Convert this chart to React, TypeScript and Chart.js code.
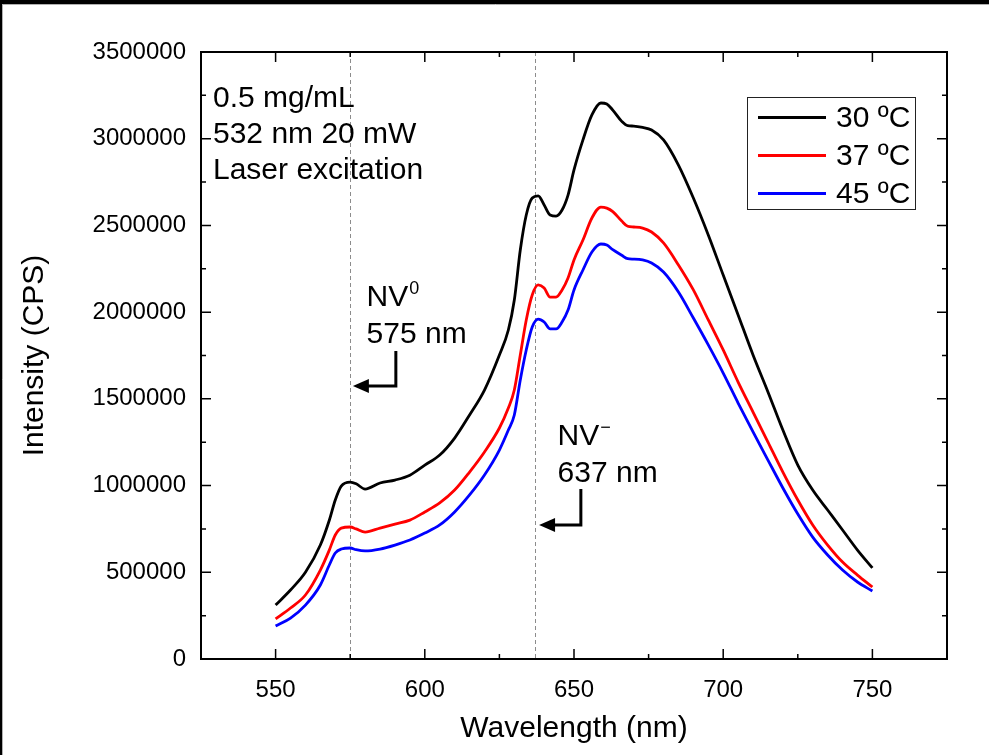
import { useEffect, useRef } from "react";
import { Chart, registerables } from "chart.js";

Chart.register(...registerables);

const wavelengths = [
  550, 555, 560, 565, 568, 570, 572, 575, 577, 580,
  585, 590, 595, 600, 605, 610, 615, 620, 625, 628,
  630, 632, 634, 636, 638, 640, 642, 644, 646, 648,
  650, 653, 656, 659, 661, 663, 666, 668, 670, 673,
  676, 680, 685, 690, 695, 700, 705, 710, 715, 720,
  725, 730, 735, 740, 745, 750,
];

const series30 = [
  311000, 398000, 500000, 657000, 800000, 917000, 997000, 1020000, 1010000, 980000,
  1015000, 1032000, 1060000, 1118000, 1176000, 1274000, 1407000, 1551000, 1753000, 1897000,
  2070000, 2358000, 2560000, 2658000, 2670000, 2618000, 2560000, 2554000, 2589000, 2675000,
  2820000, 2993000, 3137000, 3206000, 3200000, 3165000, 3100000, 3075000, 3073000, 3065000,
  3050000, 2993000, 2848000, 2658000, 2445000, 2214000, 1984000, 1753000, 1540000, 1320000,
  1118000, 974000, 859000, 744000, 628000, 525000,
];

const series37 = [
  231000, 294000, 369000, 513000, 628000, 715000, 755000, 761000, 750000, 732000,
  755000, 778000, 801000, 848000, 900000, 974000, 1078000, 1194000, 1332000, 1447000,
  1551000, 1753000, 1955000, 2099000, 2157000, 2139000, 2087000, 2087000, 2128000, 2197000,
  2301000, 2416000, 2543000, 2606000, 2600000, 2580000, 2525000, 2495000, 2491000, 2485000,
  2462000, 2399000, 2272000, 2128000, 1955000, 1782000, 1597000, 1424000, 1251000, 1078000,
  917000, 773000, 657000, 559000, 484000, 415000,
];

const series45 = [
  190000, 236000, 311000, 427000, 542000, 611000, 634000, 640000, 630000, 623000,
  634000, 657000, 686000, 726000, 773000, 848000, 946000, 1061000, 1205000, 1320000,
  1407000, 1609000, 1782000, 1914000, 1960000, 1943000, 1903000, 1903000, 1943000, 2012000,
  2128000, 2243000, 2347000, 2393000, 2387000, 2360000, 2328000, 2308000, 2306000, 2301000,
  2283000, 2231000, 2116000, 1966000, 1811000, 1649000, 1476000, 1309000, 1147000, 986000,
  836000, 703000, 600000, 513000, 444000, 392000,
];

const seriesLabels = ["30 ºC", "37 ºC", "45 ºC"];
const seriesColors = ["#000000", "#ff0000", "#0000ff"];

const xMajorTicks = [550, 600, 650, 700, 750];
const xMinorTicks = [575, 625, 675, 725];
const yMajorTicks = [0, 500000, 1000000, 1500000, 2000000, 2500000, 3000000, 3500000];
const yMinorTicks = [250000, 750000, 1250000, 1750000, 2250000, 2750000, 3250000];

const markerWavelengths = [575, 637];
const infoLines = ["0.5 mg/mL", "532 nm 20 mW", "Laser excitation"];
const nv0Label = { main: "NV", sup: "0", second: "575 nm" };
const nvmLabel = { main: "NV", sup: "−", second: "637 nm" };

const FONT = "'Liberation Sans', Arial, Helvetica, sans-serif";

function drawArrow(ctx: CanvasRenderingContext2D, x: number, y1: number, y2: number, tipX: number) {
  ctx.save();
  ctx.strokeStyle = "#000";
  ctx.fillStyle = "#000";
  ctx.lineWidth = 3;
  ctx.lineJoin = "miter";
  ctx.beginPath();
  ctx.moveTo(x, y1);
  ctx.lineTo(x, y2);
  ctx.lineTo(tipX + 12, y2);
  ctx.stroke();
  ctx.beginPath();
  ctx.moveTo(tipX, y2);
  ctx.lineTo(tipX + 16, y2 - 7);
  ctx.lineTo(tipX + 16, y2 + 7);
  ctx.closePath();
  ctx.fill();
  ctx.restore();
}

function drawNV(ctx: CanvasRenderingContext2D, lbl: { main: string; sup: string; second: string }, x: number, y: number) {
  ctx.save();
  ctx.fillStyle = "#000";
  ctx.textAlign = "left";
  ctx.textBaseline = "alphabetic";
  ctx.font = `30px ${FONT}`;
  ctx.fillText(lbl.main, x, y);
  const w = ctx.measureText(lbl.main).width;
  ctx.font = `18px ${FONT}`;
  ctx.fillText(lbl.sup, x + w + 1, y - 12);
  ctx.font = `30px ${FONT}`;
  ctx.fillText(lbl.second, x, y + 37);
  ctx.restore();
}

const decorPlugin = {
  id: "decor",
  beforeDraw(chart: any) {
    const { ctx, width, height } = chart;
    ctx.save();
    ctx.fillStyle = "#ffffff";
    ctx.fillRect(0, 0, width, height);
    ctx.fillStyle = "#000000";
    ctx.fillRect(0, 0, width, 4);
    ctx.fillRect(0, 0, 2, height);
    ctx.strokeStyle = "#b0b0b0";
    ctx.lineWidth = 1;
    ctx.beginPath();
    ctx.moveTo(2, 4.5);
    ctx.lineTo(width, 4.5);
    ctx.moveTo(2.5, 4);
    ctx.lineTo(2.5, height);
    ctx.stroke();
    ctx.restore();
  },
  beforeDatasetsDraw(chart: any) {
    const { ctx, chartArea } = chart;
    const xs = chart.scales.x;
    ctx.save();
    ctx.strokeStyle = "#8c8c8c";
    ctx.lineWidth = 1;
    ctx.setLineDash([4, 3]);
    markerWavelengths.forEach((w) => {
      const px = Math.round(xs.getPixelForValue(w)) + 0.5;
      ctx.beginPath();
      ctx.moveTo(px, chartArea.top);
      ctx.lineTo(px, chartArea.bottom);
      ctx.stroke();
    });
    ctx.restore();
  },
  afterDatasetsDraw(chart: any) {
    const { ctx, chartArea } = chart;
    const xs = chart.scales.x;
    const ys = chart.scales.y;
    const { left, right, top, bottom } = chartArea;
    ctx.save();
    ctx.strokeStyle = "#000";
    ctx.lineWidth = 2;
    ctx.strokeRect(left, top, right - left, bottom - top);
    ctx.lineWidth = 1.5;
    ctx.beginPath();
    const tickX = (vals: number[], len: number) => {
      vals.forEach((v) => {
        const px = xs.getPixelForValue(v);
        ctx.moveTo(px, bottom);
        ctx.lineTo(px, bottom - len);
        ctx.moveTo(px, top);
        ctx.lineTo(px, top + len);
      });
    };
    const tickY = (vals: number[], len: number) => {
      vals.forEach((v) => {
        const py = ys.getPixelForValue(v);
        ctx.moveTo(left, py);
        ctx.lineTo(left + len, py);
        ctx.moveTo(right, py);
        ctx.lineTo(right - len, py);
      });
    };
    tickX(xMajorTicks, 10);
    tickX(xMinorTicks, 5);
    tickY(yMajorTicks, 10);
    tickY(yMinorTicks, 5);
    ctx.stroke();

    ctx.fillStyle = "#000";
    ctx.font = `30px ${FONT}`;
    ctx.textAlign = "left";
    ctx.textBaseline = "alphabetic";
    infoLines.forEach((t, i) => {
      ctx.fillText(t, left + 12, top + 55 + i * 36);
    });

    const lx = right - 200;
    const ly = top + 44.5;
    ctx.lineWidth = 1;
    ctx.strokeStyle = "#222";
    ctx.strokeRect(Math.round(lx) + 0.5, Math.round(ly) + 0.5, 168, 112);
    seriesLabels.forEach((lab, i) => {
      const yy = ly + 21 + i * 38;
      ctx.strokeStyle = seriesColors[i];
      ctx.lineWidth = 3;
      ctx.beginPath();
      ctx.moveTo(lx + 11, yy);
      ctx.lineTo(lx + 79, yy);
      ctx.stroke();
      ctx.fillStyle = "#000";
      ctx.font = `30px ${FONT}`;
      ctx.textBaseline = "middle";
      ctx.fillText(lab, lx + 89, yy + 1);
    });
    ctx.restore();

    drawNV(ctx, nv0Label, xs.getPixelForValue(580.5), ys.getPixelForValue(2035000));
    drawArrow(ctx, xs.getPixelForValue(590.3), ys.getPixelForValue(1776000), ys.getPixelForValue(1574000), xs.getPixelForValue(575.9));
    drawNV(ctx, nvmLabel, xs.getPixelForValue(644.5), ys.getPixelForValue(1236000));
    drawArrow(ctx, xs.getPixelForValue(652.3), ys.getPixelForValue(980000), ys.getPixelForValue(773000), xs.getPixelForValue(638.3));
  },
};

export default function App() {
  const ref = useRef<HTMLCanvasElement | null>(null);
  useEffect(() => {
    if (!ref.current) return;
    const mk = (vals: number[]) => wavelengths.map((w, i) => ({ x: w, y: vals[i] }));
    const allSeries = [series30, series37, series45];
    const chart = new Chart(ref.current, {
      type: "line",
      data: {
        datasets: allSeries.map((s, i) => ({
          label: seriesLabels[i],
          data: mk(s),
          borderColor: seriesColors[i],
          backgroundColor: seriesColors[i],
          borderWidth: 2.8,
          pointRadius: 0,
          tension: 0.4,
          cubicInterpolationMode: "monotone" as const,
          fill: false,
        })),
      },
      options: {
        animation: false,
        responsive: false,
        maintainAspectRatio: false,
        layout: { padding: { left: 0, top: 52, right: 42, bottom: 0 } },
        plugins: { legend: { display: false }, tooltip: { enabled: false } },
        scales: {
          x: {
            type: "linear",
            min: 525,
            max: 775,
            grid: { display: false },
            border: { display: false },
            afterBuildTicks: (s: any) => {
              s.ticks = xMajorTicks.map((v) => ({ value: v }));
            },
            afterFit: (s: any) => {
              s.height = 96;
            },
            ticks: {
              font: { family: FONT, size: 24 },
              color: "#000",
              padding: 9,
              maxRotation: 0,
              autoSkip: false,
              callback: (v: any) => String(v),
            },
            title: {
              display: true,
              text: "Wavelength (nm)",
              font: { family: FONT, size: 30 },
              color: "#000",
              padding: { top: 0, bottom: 8 },
            },
          },
          y: {
            type: "linear",
            min: 0,
            max: 3500000,
            grid: { display: false },
            border: { display: false },
            afterBuildTicks: (s: any) => {
              s.ticks = yMajorTicks.map((v) => ({ value: v }));
            },
            afterFit: (s: any) => {
              s.width = 201;
            },
            ticks: {
              font: { family: FONT, size: 24 },
              color: "#000",
              padding: 7,
              autoSkip: false,
              callback: (v: any) => String(v),
            },
            title: {
              display: true,
              text: "Intensity (CPS)",
              font: { family: FONT, size: 30 },
              color: "#000",
              padding: { top: 17, bottom: 0 },
            },
          },
        },
      },
      plugins: [decorPlugin],
    });
    return () => chart.destroy();
  }, []);
  return (
    <div style={{ position: "fixed", left: 0, top: 0, width: 989, height: 755 }}>
      <canvas ref={ref} width={989} height={755} style={{ display: "block", width: 989, height: 755 }} />
    </div>
  );
}
